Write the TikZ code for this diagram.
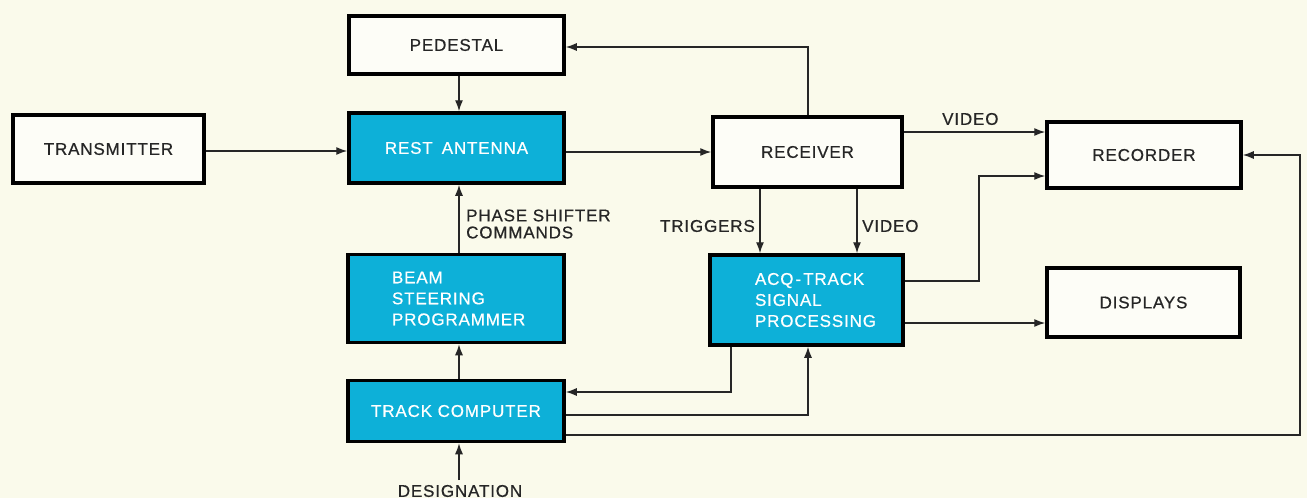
\documentclass[tikz,border=0pt]{standalone}
\usepackage{fontspec}
\setmainfont{Liberation Sans}[LetterSpace=5,FakeBold=0.6]
\usetikzlibrary{arrows.meta,calc}
\definecolor{paper}{HTML}{FAFAEB}
\definecolor{cyanfill}{HTML}{0DB0D8}
\definecolor{ink}{HTML}{262626}
\begin{document}
\begin{tikzpicture}[x=1pt,y=-1pt,
  box/.style={draw=black,line width=3.5pt,fill=white!60!paper,rectangle,text=ink,
    font=\fontsize{17}{21}\selectfont,inner sep=0pt},
  cbox/.style={box,fill=cyanfill,text=white},
  arr/.style={draw=ink,line width=1.3pt,-{Latex[length=11pt,width=8pt]}},
  lbl/.style={text=ink,font=\fontsize{17}{17}\selectfont,inner sep=0pt}]
\fill[paper] (0,0) rectangle (1307,498);
\useasboundingbox (0,0) rectangle (1307,498);

\node[box,minimum width=191pt,minimum height=68pt] (trans) at (108.5,149) {TRANSMITTER};
\node[box,minimum width=215pt,minimum height=58pt] (ped) at (456.5,45) {PEDESTAL};
\node[cbox,minimum width=215pt,minimum height=70pt] (ant) at (456.5,148) {REST\hspace{9pt}ANTENNA};
\node[box,minimum width=189pt,minimum height=70pt] (rec) at (807.5,152) {RECEIVER};
\node[box,minimum width=194pt,minimum height=66pt] (recd) at (1144,155) {RECORDER};
\node[box,minimum width=193pt,minimum height=69pt] (disp) at (1143.5,302.5) {DISPLAYS};
\node[cbox,minimum width=216pt,minimum height=88pt,text width=128pt,align=left] (beam) at (456,298.5) {BEAM\\STEERING\\PROGRAMMER};
\node[cbox,minimum width=216pt,minimum height=61pt] (track) at (456,411) {TRACK COMPUTER};
\node[cbox,minimum width=193pt,minimum height=90pt,text width=103pt,align=left] (acq) at (806.5,300) {\mbox{ACQ\kern2pt-\kern2pt TRACK}\\SIGNAL\\PROCESSING};

\coordinate (des) at (459,480);
\coordinate (rc) at (1300,300);
\coordinate (mid) at (979,230);

% connectors
\draw[arr] (trans.east |- 0,151) -- (ant.west |- 0,151);
\draw[arr] ([xshift=2.5pt]ped.south) -- ([xshift=2.5pt]ant.north);
\draw[arr] (ant.east |- rec.west) -- (rec.west);
\draw[arr] ([xshift=0.5pt]rec.north) |- ([yshift=-2pt]ped.east);
\draw[arr] ([yshift=20pt]rec.east) -- ([yshift=20pt]rec.east -| recd.west);
\draw[arr] ([xshift=-47.5pt]rec.south) -- ([xshift=-47.5pt]rec.south |- acq.north);
\draw[arr] ([xshift=49.5pt]rec.south) -- ([xshift=49.5pt]rec.south |- acq.north);
\draw[arr] ([xshift=3pt]beam.north) -- ([xshift=3pt]beam.north |- ant.south);
\draw[arr] ([xshift=3pt]track.north) -- ([xshift=3pt]track.north |- beam.south);
\draw[arr] (des) -- (des |- track.south);
\draw[arr] ([xshift=-75.5pt]acq.south) |- ([yshift=19pt]track.east);
\draw[arr] ([yshift=-4pt]track.east) -| ([xshift=1.5pt]acq.south);
\draw[arr] ([yshift=-24pt]track.east) -| (rc |- recd.east) -- (recd.east);
\draw[arr] ([yshift=19pt]acq.east) -| (mid) |- ([yshift=-21pt]recd.west);
\draw[arr] ([yshift=-23pt]acq.east) -- ([yshift=-23pt]acq.east -| disp.west);

% labels
\node[lbl,anchor=west] (lv1) at (942,119) {VIDEO};
\node[lbl,anchor=east] (ltr) at (755,226) {TRIGGERS};
\node[lbl,anchor=west] (lv2) at (862,226) {VIDEO};
\node[lbl,anchor=west,align=left] (lps) at (466,224) {PHASE SHIFTER\\COMMANDS};
\node[lbl] (ldes) at (460,491) {DESIGNATION};
\end{tikzpicture}
\end{document}
